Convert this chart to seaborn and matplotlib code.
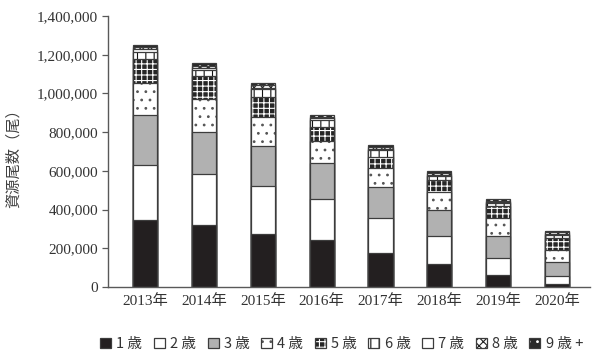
import matplotlib
matplotlib.use("Agg")
import matplotlib.pyplot as plt
from matplotlib.patches import Patch
from matplotlib.ticker import FuncFormatter
import pandas as pd
import seaborn as sns

# Stock numbers by age class (fish), 2013-2020
years = ["2013年", "2014年", "2015年", "2016年", "2017年", "2018年", "2019年", "2020年"]
ages = ["1 歳", "2 歳", "3 歳", "4 歳", "5 歳", "6 歳", "7 歳", "8 歳", "9 歳 +"]
age1 = [346000, 320000, 272000, 242000, 178000, 120000, 62000, 17000]
age2 = [284000, 264000, 250000, 212000, 180000, 142000, 90000, 41000]
age3 = [256000, 216000, 208000, 184000, 160000, 137000, 110000, 71000]
age4 = [170000, 170000, 150000, 116000, 99000, 92000, 96000, 64000]
age5 = [120000, 118000, 103000, 74000, 55000, 60000, 60000, 62000]
age6 = [36000, 31000, 38000, 35000, 35000, 21000, 14000, 15000]
age7 = [17000, 14000, 8000, 8000, 8000, 8000, 6000, 5000]
age8 = [9000, 9000, 14000, 9000, 8000, 9000, 8000, 8000]
age9 = [12000, 14000, 9000, 8000, 9000, 10000, 10000, 8000]
series = [age1, age2, age3, age4, age5, age6, age7, age8, age9]

rows = []
for age, vals in zip(ages, series):
    for yr, v in zip(years, vals):
        rows.append({"year": yr, "age": age, "value": v})
df = pd.DataFrame(rows)
df["age"] = pd.Categorical(df["age"], categories=ages, ordered=True)
df = df.sort_values(["year", "age"])
df["cum"] = df.groupby("year")["value"].cumsum()

# face colour, hatch, hatch colour for each age class
EDGE = "#3c3c3c"
pattern = [
    ("#231f20", "", EDGE),
    ("#ffffff", "", EDGE),
    ("#b1b1b1", "", EDGE),
    ("#ffffff", "..", "#555555"),
    ("#262626", "+++", "#ffffff"),
    ("#ffffff", "||", "#111111"),
    ("#ffffff", "", EDGE),
    ("#ffffff", "xxxx", "#222222"),
    ("#2a2a2a", "..", "#ffffff"),
]
styles = dict(zip(ages, pattern))

sns.set_style("white")
plt.rcParams["hatch.linewidth"] = 0.8
plt.rcParams["font.family"] = ["Liberation Serif", "Noto Sans CJK JP", "DejaVu Sans"]

fig = plt.figure(figsize=(5.95, 3.54), dpi=100)
ax = fig.add_axes([0.1815, 0.1893, 0.81, 0.7655])

def style_patches(patches, face, hatch, hcolor):
    for p in patches:
        p.set_facecolor(face)
        p.set_edgecolor(EDGE)
        p.set_linewidth(0.9)
        if hatch:
            p.set_hatch(hatch)
            p._hatch_color = matplotlib.colors.to_rgba(hcolor)

# cumulative layers, tallest first so lower segments sit on top
for age in reversed(ages):
    sub = df[df["age"] == age]
    n_before = len(ax.patches)
    sns.barplot(data=sub, x="year", y="cum", order=years, ax=ax,
                width=0.41, saturation=1, color=styles[age][0],
                errorbar=None, edgecolor=EDGE, linewidth=0.9)
    style_patches(ax.patches[n_before:], *styles[age])

ax.set_xlim(-0.63, 7.56)
ax.set_ylim(0, 1400000)
ax.set_yticks(range(0, 1400001, 200000))
ax.yaxis.set_major_formatter(FuncFormatter(lambda v, _: f"{int(v):,}"))

for s in ["top", "right"]:
    ax.spines[s].set_visible(False)
for s in ["left", "bottom"]:
    ax.spines[s].set_color("#595959")
    ax.spines[s].set_linewidth(1.0)

ax.tick_params(axis="y", direction="out", length=4, width=0.9, color="#595959",
               labelsize=11, labelcolor="#333333", pad=3, left=True)
ax.tick_params(axis="x", length=0, labelsize=11, labelcolor="#333333", pad=5)
for lab in ax.get_xticklabels() + ax.get_yticklabels():
    lab.set_fontfamily(["Liberation Serif", "Noto Sans CJK JP"])

ax.set_xlabel("")
ax.set_ylabel("資源尾数（尾）", fontsize=11, color="#404040",
              fontfamily=["Noto Sans CJK JP"])
ax.yaxis.set_label_coords(-0.178, 0.487)

handles = []
for age in ages:
    face, hatch, hcolor = styles[age]
    h = Patch(facecolor=face, edgecolor=EDGE, hatch=hatch, linewidth=0.9, label=age)
    if hatch:
        h._hatch_color = matplotlib.colors.to_rgba(hcolor)
    handles.append(h)

fig.legend(handles=handles, loc="center", bbox_to_anchor=(0.574, 0.028), ncol=9,
           frameon=False, handlelength=0.75, handleheight=0.75, handletextpad=0.35,
           columnspacing=0.8, prop={"family": ["Noto Sans CJK JP"], "size": 10.5},
           labelcolor="#333333")

fig.savefig("out.png", dpi=100)
